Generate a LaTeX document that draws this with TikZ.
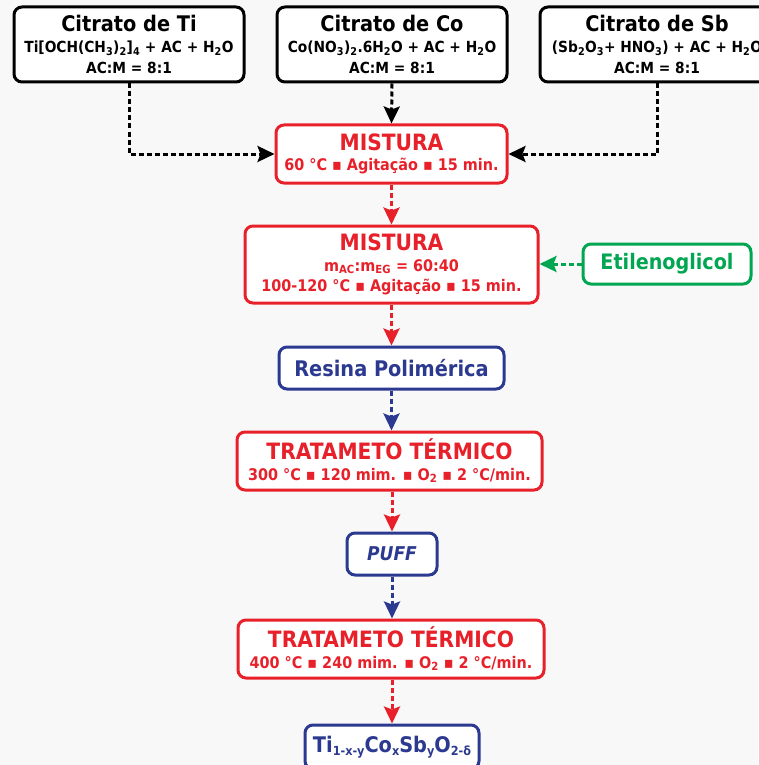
\documentclass[tikz,border=0pt]{standalone}
\usepackage{fontspec}
\setmainfont{DejaVu Sans Condensed}
\usetikzlibrary{arrows.meta}
\definecolor{cred}{HTML}{E8202A}
\definecolor{cblue}{HTML}{2B3990}
\definecolor{cgreen}{HTML}{00A651}
\definecolor{cbg}{HTML}{F8F8F8}
\newcommand{\sbs}[1]{\textsubscript{#1}}
\newcommand{\fsb}[1]{\raisebox{-3.5pt}{\fontsize{12.5}{12}\selectfont #1}}
\newcommand{\tsz}{\fontsize{21.5}{23}\selectfont}
\newcommand{\rsz}{\fontsize{22.5}{23}\selectfont}
\newcommand{\ssz}{\fontsize{15.3}{21}\selectfont}
\newcommand{\qsz}{\fontsize{16}{20.5}\selectfont}
\begin{document}
\begin{tikzpicture}[x=1pt,y=-1pt,
  box/.style={draw, line width=3pt, rounded corners=8pt, fill=white, align=center, inner sep=0pt, font=\bfseries\ssz},
  rbox/.style={box, draw=cred, text=cred, font=\bfseries\qsz},
  arr/.style={line width=3pt, dash pattern=on 5pt off 3pt, -{Stealth[length=17pt,width=16pt,inset=3pt]}}]
\fill[cbg] (0,0) rectangle (758,765);
\useasboundingbox (0,0) rectangle (758,765);
\node[box, minimum width=230pt, minimum height=75pt] (ti) at (129,44.5)
  {{\tsz Citrato de Ti}\\ Ti[OCH(CH\sbs{3})\sbs{2}]\sbs{4} + AC + H\sbs{2}O\\ AC:M = 8:1};
\node[box, minimum width=230pt, minimum height=75pt] (co) at (392,44.5)
  {{\tsz Citrato de Co}\\ Co(NO\sbs{3})\sbs{2}.6H\sbs{2}O + AC + H\sbs{2}O\\ AC:M = 8:1};
\node[box, minimum width=234pt, minimum height=75pt] (sb) at (657,44.5)
  {{\tsz Citrato de Sb}\\ (Sb\sbs{2}O\sbs{3}+ HNO\sbs{3}) + AC + H\sbs{2}O\\ AC:M = 8:1};
\node[rbox, minimum width=231pt, minimum height=58pt] (m1) at (391.5,154)
  {{\rsz MISTURA}\\ 60 °C ▪ Agitação ▪ 15 min.};
\node[rbox, minimum width=293pt, minimum height=77pt] (m2) at (391.5,264.5)
  {{\rsz MISTURA}\\ m\sbs{AC}:m\sbs{EG} = 60:40\\ 100-120 °C ▪ Agitação ▪ 15 min.};
\node[box, draw=cgreen, text=cgreen, minimum width=168pt, minimum height=40pt, font=\bfseries\fontsize{21.3}{23}\selectfont] (eg) at (667,264) {Etilenoglicol};
\node[box, draw=cblue, text=cblue, minimum width=225pt, minimum height=42pt, font=\bfseries\fontsize{21.5}{23}\selectfont] (rp) at (391.5,368) {Resina Polimérica};
\node[rbox, minimum width=305pt, minimum height=58pt] (t1) at (389.5,461)
  {{\rsz TRATAMETO TÉRMICO}\\ 300 °C ▪ 120 mim. ▪ O\sbs{2} ▪ 2 °C/min.};
\node[box, draw=cblue, text=cblue, minimum width=90pt, minimum height=42pt, font=\bfseries\itshape\fontsize{19}{21}\selectfont] (pf) at (392,554) {PUFF};
\node[rbox, minimum width=306pt, minimum height=58pt] (t2) at (391,649)
  {{\rsz TRATAMETO TÉRMICO}\\ 400 °C ▪ 240 mim. ▪ O\sbs{2} ▪ 2 °C/min.};
\node[box, draw=cblue, text=cblue, minimum width=174pt, minimum height=44pt, font=\bfseries\fontsize{21.5}{23}\selectfont] (fin) at (392,747)
  {Ti\fsb{1-x-y}Co\fsb{x}Sb\fsb{y}O\fsb{2-δ}};
\draw[arr] (ti.south) |- (m1.west);
\draw[arr] (sb.south) |- (m1.east);
\draw[arr] (co.south) -- (m1.north);
\draw[arr, cred] (m1.south) -- (m2.north);
\draw[arr, cgreen] (eg.west) -- (m2.east |- eg.west);
\draw[arr, cred] (m2.south) -- (rp.north);
\draw[arr, cblue] (rp.south) -- (rp.south |- t1.north);
\draw[arr, cred] (t1.south -| pf.north) -- (pf.north);
\draw[arr, cblue] (pf.south) -- (pf.south |- t2.north);
\draw[arr, cred] (t2.south -| fin.north) -- (fin.north);
\end{tikzpicture}
\end{document}
